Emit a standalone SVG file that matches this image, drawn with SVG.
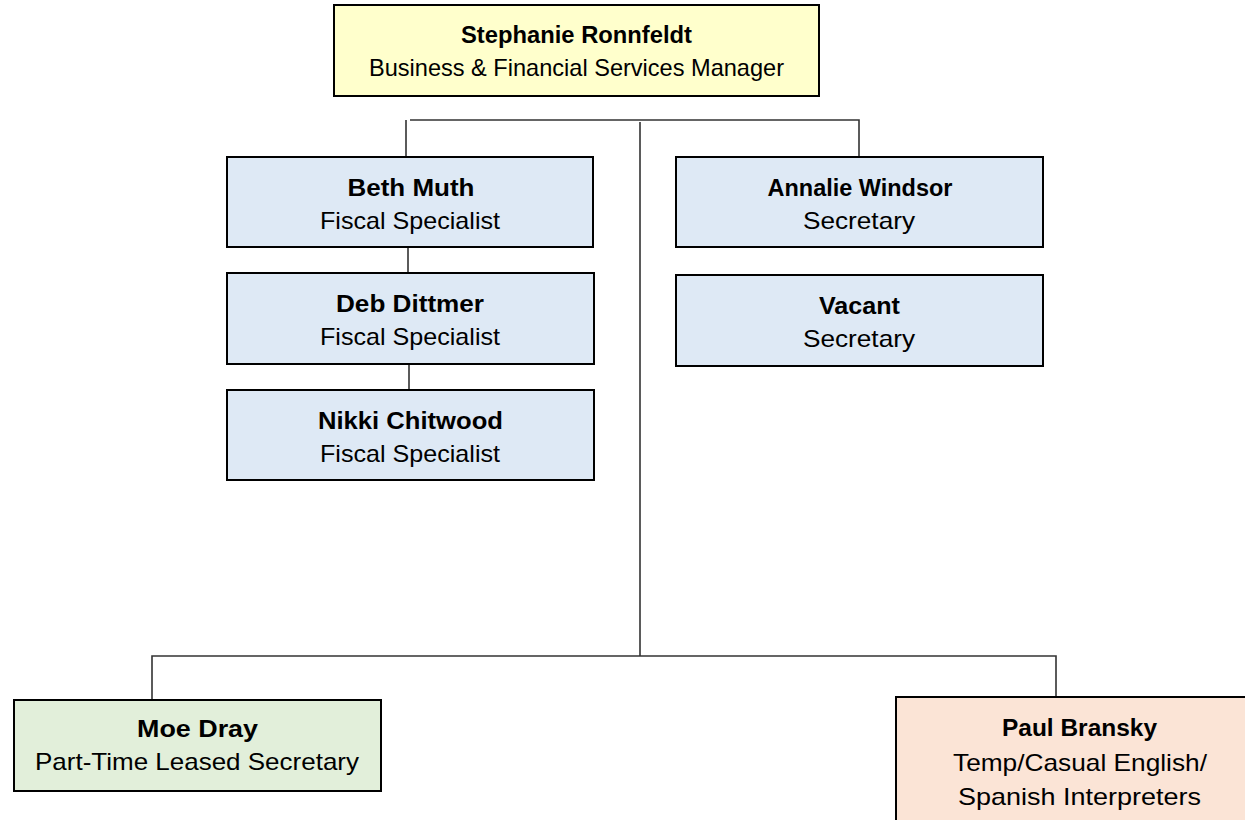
<svg xmlns="http://www.w3.org/2000/svg" width="1245" height="823" viewBox="0 0 1245 823">
<style>
.box{stroke:#000;stroke-width:2}
.y{fill:#FFFFCC}.b{fill:#DEE9F5}.g{fill:#E2EFDA}.p{fill:#FBE4D6}
text{font-family:"Liberation Sans",Arial,sans-serif;font-size:24px;fill:#000;text-anchor:middle}
.n{font-weight:bold;font-size:23.5px}
.c{fill:none;stroke:#333;stroke-width:1.6}
</style>
<rect width="1245" height="823" fill="#fff"/>
<g id="connectors">
<path class="c" d="M406,120 V157 M410,120 H859 V157 M640,122 V656 M152,700 V656 H1056 V697 M408,247 V273 M409,364 V390"/>
</g>
<g id="stephanie">
<rect class="box y" x="334" y="5" width="485" height="91"/>
<text class="n" x="576.5" y="43" textLength="231" lengthAdjust="spacingAndGlyphs">Stephanie Ronnfeldt</text>
<text x="576.5" y="76" textLength="415" lengthAdjust="spacingAndGlyphs">Business &amp; Financial Services Manager</text>
</g>
<g id="beth">
<rect class="box b" x="227" y="157" width="366" height="90"/>
<text class="n" x="411" y="196" textLength="127" lengthAdjust="spacingAndGlyphs">Beth Muth</text>
<text x="410" y="229" textLength="180" lengthAdjust="spacingAndGlyphs">Fiscal Specialist</text>
</g>
<g id="deb">
<rect class="box b" x="227" y="273" width="367" height="91"/>
<text class="n" x="410" y="312" textLength="148" lengthAdjust="spacingAndGlyphs">Deb Dittmer</text>
<text x="410" y="345" textLength="180" lengthAdjust="spacingAndGlyphs">Fiscal Specialist</text>
</g>
<g id="nikki">
<rect class="box b" x="227" y="390" width="367" height="90"/>
<text class="n" x="410.5" y="429" textLength="185" lengthAdjust="spacingAndGlyphs">Nikki Chitwood</text>
<text x="410" y="462" textLength="180" lengthAdjust="spacingAndGlyphs">Fiscal Specialist</text>
</g>
<g id="annalie">
<rect class="box b" x="676" y="157" width="367" height="90"/>
<text class="n" x="860" y="196" textLength="185" lengthAdjust="spacingAndGlyphs">Annalie Windsor</text>
<text x="859" y="229" textLength="112" lengthAdjust="spacingAndGlyphs">Secretary</text>
</g>
<g id="vacant">
<rect class="box b" x="676" y="275" width="367" height="91"/>
<text class="n" x="859.5" y="314" textLength="81" lengthAdjust="spacingAndGlyphs">Vacant</text>
<text x="859" y="347" textLength="112" lengthAdjust="spacingAndGlyphs">Secretary</text>
</g>
<g id="moe">
<rect class="box g" x="14" y="700" width="367" height="91"/>
<text class="n" x="197.5" y="737" textLength="121" lengthAdjust="spacingAndGlyphs">Moe Dray</text>
<text x="197" y="770" textLength="324" lengthAdjust="spacingAndGlyphs">Part-Time Leased Secretary</text>
</g>
<g id="paul">
<rect class="p" x="896" y="697" width="360" height="123"/>
<path d="M896,820 V697 H1250" fill="none" stroke="#000" stroke-width="2"/>
<text class="n" x="1079.5" y="736" textLength="155" lengthAdjust="spacingAndGlyphs">Paul Bransky</text>
<text x="1080" y="771" textLength="254" lengthAdjust="spacingAndGlyphs">Temp/Casual English/</text>
<text x="1079.5" y="805" textLength="243" lengthAdjust="spacingAndGlyphs">Spanish Interpreters</text>
</g>
</svg>
